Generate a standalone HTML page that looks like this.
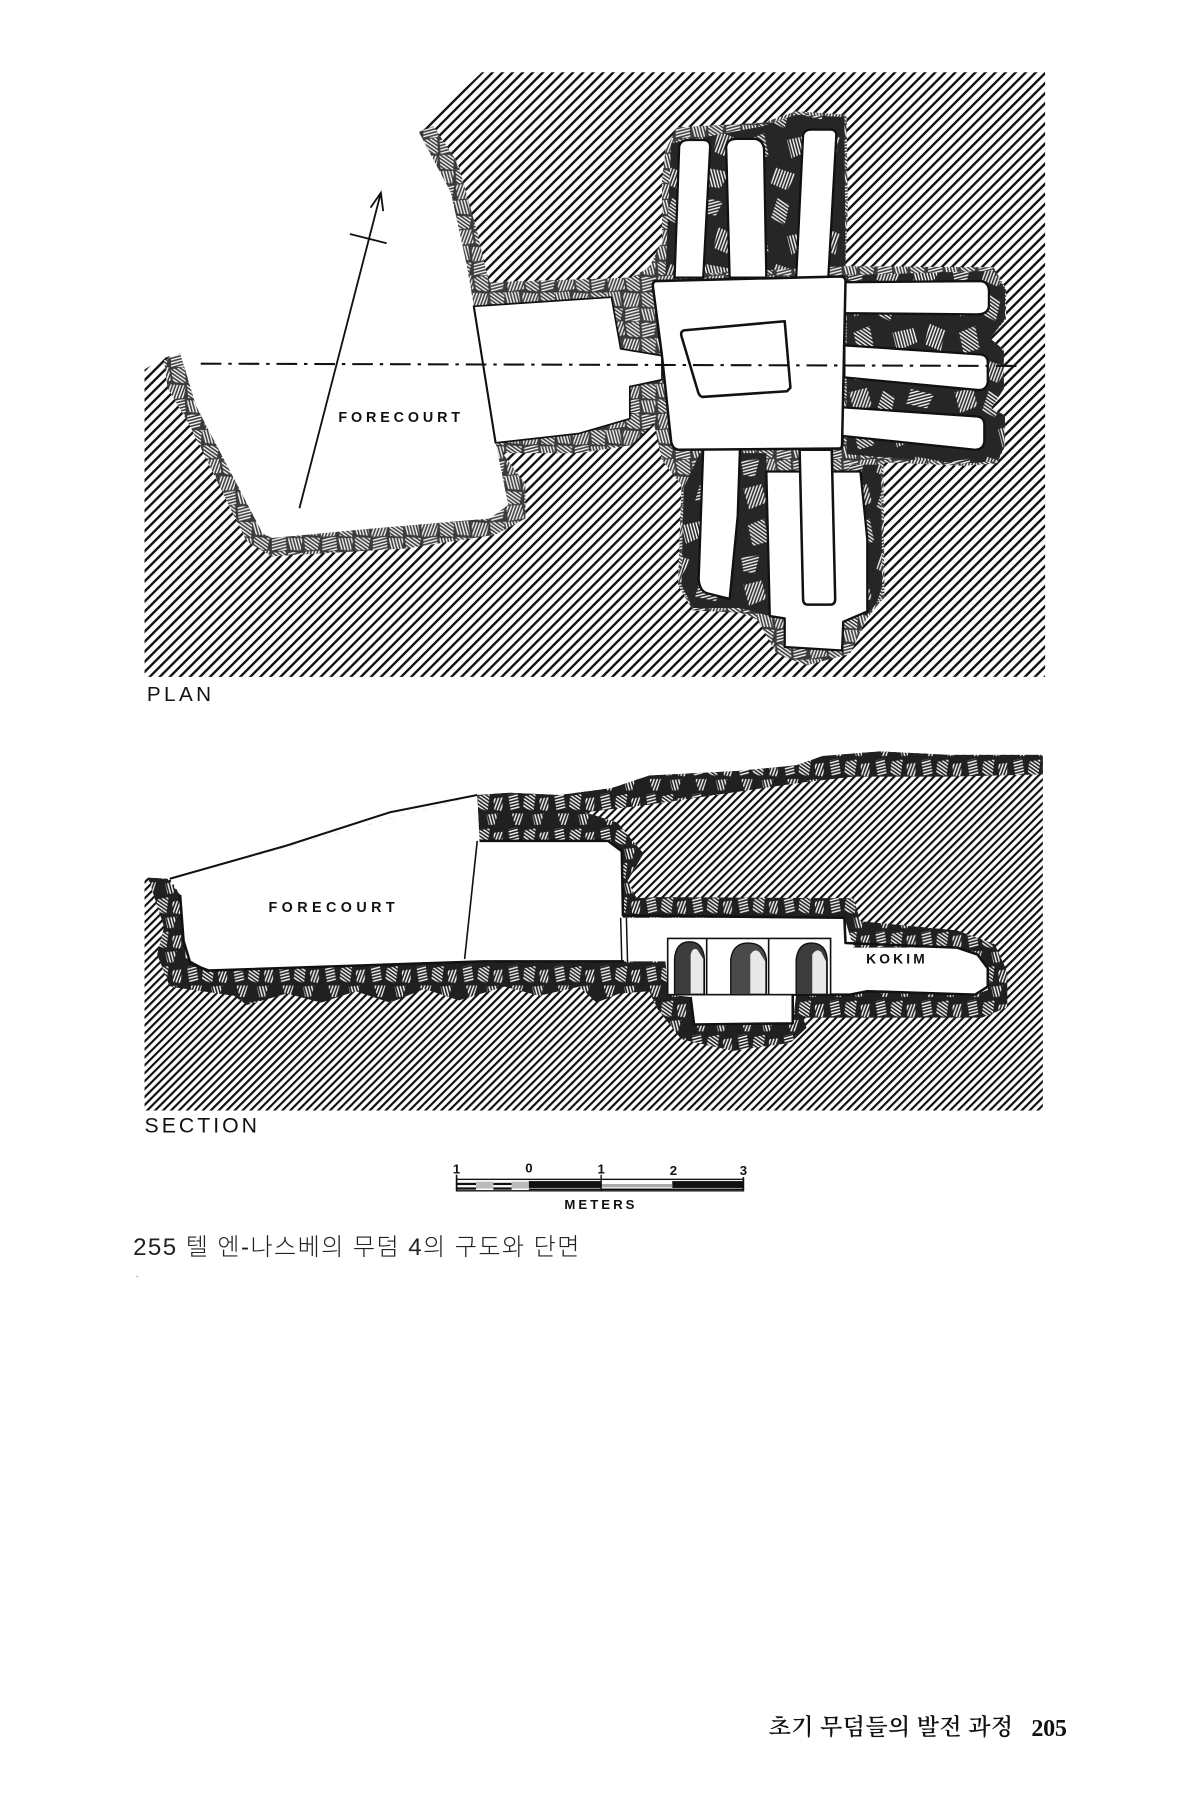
<!DOCTYPE html>
<html lang="ko">
<head>
<meta charset="utf-8">
<title>텔 엔-나스베의 무덤 4</title>
<style>
html,body{margin:0;padding:0;background:#fff;width:1200px;height:1800px;overflow:hidden}
svg{display:block}
.lab{font-family:"Liberation Sans",sans-serif;font-weight:700;fill:#111}
.big{font-family:"Liberation Sans",sans-serif;fill:#111}
</style>
</head>
<body>
<svg xmlns="http://www.w3.org/2000/svg" width="1200" height="1800" viewBox="0 0 1046 1569">
<defs>
<pattern id="hp" patternUnits="userSpaceOnUse" width="6.2" height="6.2" patternTransform="rotate(45)">
<rect width="6.2" height="6.2" fill="#fff"/><rect width="2.1" height="6.2" fill="#111"/>
</pattern>
<pattern id="hs" patternUnits="userSpaceOnUse" width="4.9" height="4.9" patternTransform="rotate(45)">
<rect width="4.9" height="4.9" fill="#fff"/><rect width="1.9" height="4.9" fill="#111"/>
</pattern>
<pattern id="w1" patternUnits="userSpaceOnUse" width="2.6" height="2.6" patternTransform="rotate(20)"><rect width="1.2" height="2.6" fill="#fff"/></pattern>
<pattern id="w2" patternUnits="userSpaceOnUse" width="2.6" height="2.6" patternTransform="rotate(75)"><rect width="1.2" height="2.6" fill="#fff"/></pattern>
<pattern id="w3" patternUnits="userSpaceOnUse" width="2.6" height="2.6" patternTransform="rotate(125)"><rect width="1.2" height="2.6" fill="#fff"/></pattern>
<pattern id="w4" patternUnits="userSpaceOnUse" width="2.6" height="2.6" patternTransform="rotate(165)"><rect width="1.2" height="2.6" fill="#fff"/></pattern>
<pattern id="rub" patternUnits="userSpaceOnUse" width="92" height="84">
<rect width="92" height="84" fill="#262626"/>
<polygon points="4,6 20,2 24,18 9,24" fill="url(#w1)"/>
<polygon points="34,4 44,10 40,28 28,22" fill="url(#w3)"/>
<polygon points="58,3 78,8 72,20 54,16" fill="url(#w2)"/>
<polygon points="8,38 22,32 26,52 12,56" fill="url(#w3)"/>
<polygon points="42,38 60,34 64,46 46,54" fill="url(#w4)"/>
<polygon points="74,30 88,36 84,54 70,48" fill="url(#w1)"/>
<polygon points="2,66 18,64 14,80 4,78" fill="url(#w2)"/>
<polygon points="32,62 50,68 42,82 28,76" fill="url(#w1)"/>
<polygon points="62,62 84,66 76,80 60,78" fill="url(#w4)"/>
</pattern>
<pattern id="rubL" patternUnits="userSpaceOnUse" width="44" height="40">
<rect width="44" height="40" fill="#3a3a3a"/>
<polygon points="1,1 15,0 17,12 3,14" fill="url(#w1)"/>
<polygon points="17,2 29,0 30,14 19,13" fill="url(#w3)"/>
<polygon points="31,1 44,2 42,13 32,14" fill="url(#w2)"/>
<polygon points="0,15 12,14 14,27 2,26" fill="url(#w4)"/>
<polygon points="15,15 30,16 28,27 16,28" fill="url(#w1)"/>
<polygon points="31,15 44,15 43,28 32,27" fill="url(#w3)"/>
<polygon points="1,28 15,29 13,39 2,40" fill="url(#w3)"/>
<polygon points="17,29 29,28 30,40 17,40" fill="url(#w2)"/>
<polygon points="31,29 44,29 42,40 32,39" fill="url(#w4)"/>
</pattern>
<pattern id="rubS" patternUnits="userSpaceOnUse" width="40" height="30">
<rect width="40" height="30" fill="#202020"/>
<polygon points="3,3 11,1 13,15 5,16" fill="url(#w2)"/>
<polygon points="17,4 27,2 25,17 16,14" fill="url(#w3)"/>
<polygon points="30,6 38,5 38,17 31,16" fill="url(#w1)"/>
<polygon points="6,19 16,19 13,29 9,29" fill="url(#w1)"/>
<polygon points="24,20 34,19 31,29 26,29" fill="url(#w4)"/>
</pattern>
</defs>

<!-- PLAN -->
<polygon fill="url(#hp)" points="420,63 911,63 911,590 126,590 126,322 143,312 157,308 171,354 300,460 413,267 365,115"/>
<polygon fill="url(#rubL)" points="365,115 378,110 399,142 416,202 424,237 427,246 550,242 566,233 577,210 577,157 580,131 590,111 665,107 694,97 738,100 739,181 737,232 866,233 877,252 877,278 863,295 875,305 875,339 864,356 876,362 876,389 869,404 840,406 770,403 771,520 755,540 741,570 703,580 677,570 660,540 645,534 604,532 591,510 594,423 577,401 570,369 550,388 505,395 438,395 458,422 458,452 432,466 355,478 237,485 215,472 165,370 146,338 143,314 157,308 171,354 229,465 432,420 413,267 407,232 393,168"/>
<polygon fill="#fff" points="160,316 171,354 229,465 237,469 321,461 427,452 443,440 432,386 413,267 407,232 393,168 365,115 330,110 300,250 200,310"/>
<polygon fill="url(#rub)" points="738,240 866,236 876,252 876,278 863,295 875,305 875,339 864,356 876,362 876,389 869,402 840,404 738,396"/>
<polygon fill="url(#rub)" points="610,395 668,395 671,537 645,530 604,530 594,510 596,425"/>
<polygon fill="url(#rub)" points="740,405 768,405 769,520 755,537 745,530"/>
<polygon fill="url(#rub)" points="585,125 665,110 694,100 736,102 737,232 580,240"/>
<polygon fill="#fff" stroke="#111" stroke-width="1.5" points="413,267 533,259 541,304 577,310 577,331 549,337 549,365 504,378 432,386"/>
<line x1="413" y1="267" x2="432" y2="386" stroke="#111" stroke-width="1.8"/>
<g fill="#fff" stroke="#111" stroke-width="2" stroke-linejoin="round">
<path d="M588,242 L592,128 Q593,122 600,122 L613,122 Q619,122 619,128 L613,242 Z"/>
<path d="M636,242 L633,128 Q634,121 642,121 L658,121 Q665,122 666,130 L668,242 Z"/>
<path d="M694,242 L700,118 Q701,113 707,113 L724,113 Q729,113 729,118 L722,242 Z"/>
<path d="M736,246 L855,245 Q862,246 862,254 L862,267 Q861,274 852,274 L736,273 Z"/>
<path d="M736,301 L855,309 Q861,310 861,316 L861,333 Q860,340 853,340 L736,329 Z"/>
<path d="M734,355 L852,363 Q858,364 858,370 L858,385 Q857,392 850,392 L734,380 Z"/>
<path d="M613,390 L645,390 L643,450 L636,522 L616,517 Q610,515 609,505 Z"/>
<path d="M668,411 L750,411 L756,470 L756,533 L735,542 L734,567 L684,564 L684,539 L671,537 Z"/>
<path d="M572,245 Q569,245 569,249 L577,310 L585,385 Q586,391 591,392 L731,391 Q734,391 734,388 L737,245 Q737,241 733,241 Z" stroke-width="2.2"/>
<path d="M697,392 L725,392 L728,522 Q728,527 724,527 L704,527 Q700,527 700,522 Z" stroke-width="2.2"/>
<path d="M596,288 L684,280 L689,338 L686,341 L612,346 Q609,345 608,340 L594,293 Q593,289 596,288 Z" stroke-width="2.2"/>
</g>
<line x1="175" y1="317" x2="888" y2="319" stroke="#111" stroke-width="1.8" stroke-dasharray="18 6 3 6"/>
<g stroke="#111" stroke-width="1.6" fill="none">
<line x1="261" y1="443" x2="332" y2="168"/>
<polyline points="323,181 332,168 334,184"/>
<line x1="305" y1="204" x2="337" y2="212"/>
</g>
<text class="lab" x="295" y="368" font-size="12.5" textLength="106">FORECOURT</text>
<text class="big" x="128" y="611" font-size="18" textLength="56">PLAN</text>

<!-- SECTION -->
<polygon fill="url(#hs)" points="126,765 148,766 416,693 444,691 488,693 533,687 566,676 644,672 694,667 717,659 767,655 828,658 909,658 909,968 126,968"/>
<polygon fill="url(#rubS)" points="129,765 146,766 157,780 162,835 182,846 421,838 544,838 543,800 530,760 530,738 418,733 416,693 444,691 488,693 533,687 566,676 644,672 694,667 717,659 767,655 828,658 909,658 909,675 828,677 744,677 700,682 644,690 561,702 510,708 538,717 561,744 547,768 555,783 572,782 744,783 750,803 834,811 867,823 878,847 878,878 856,887 700,887 703,896 689,909 639,916 594,906 572,878 566,864 540,866 520,874 505,860 470,868 440,860 400,872 370,862 340,874 310,864 280,874 250,866 215,876 204,868 148,860 137,832 143,808"/>
<polygon fill="#fff" points="148,766 416,693 418,733 530,733 542,742 543,800 736,800 744,826 834,826 852,832 861,844 861,863 850,867 756,864 741,867 694,867 691,892 605,893 602,869 583,867 580,838 544,838 421,838 182,846 162,835 157,780"/>
<g fill="none" stroke="#111" stroke-linejoin="round">
<polyline stroke-width="1.8" points="148,766 250,737 340,708 416,693"/>
<polyline stroke-width="2.2" points="418,733 530,733 542,742 543,798 736,800 737,822 834,826 852,832 861,844 861,860 850,867 756,864 741,867 691,867 691,892 605,893 602,869"/>
<polyline stroke-width="2.2" points="544,838 421,838 182,846 166,840 160,820 157,780"/>
<line x1="416" y1="733" x2="405" y2="836" stroke-width="1.4"/>
<line x1="546" y1="800" x2="547" y2="838" stroke-width="1.3"/>
<line x1="541" y1="800" x2="542" y2="838" stroke-width="1.3"/>
</g>
<g fill="#fff" stroke="#111" stroke-width="1.4">
<rect x="582" y="818" width="142" height="49"/>
<line x1="616" y1="818" x2="616" y2="867"/>
<line x1="670" y1="818" x2="670" y2="867"/>
</g>
<g stroke="#111" stroke-width="1.2">
<path d="M588,867 L588,836 Q589,821 601,821 Q613,821 614,836 L614,867 Z" fill="#3c3c3c"/>
<path d="M637,867 L637,836 Q639,822 652,822 Q666,822 668,836 L668,867 Z" fill="#4a4a4a"/>
<path d="M694,867 L694,836 Q696,822 707,822 Q720,822 721,836 L721,867 Z" fill="#3c3c3c"/>
</g>
<g fill="#e8e8e8">
<path d="M602,866 L602,832 Q604,825 608,828 L613,836 L613,866 Z"/>
<path d="M654,866 L654,832 Q658,826 662,830 L667,838 L667,866 Z"/>
<path d="M708,866 L708,832 Q712,826 716,830 L720,838 L720,866 Z"/>
</g>
<text class="lab" x="234" y="795" font-size="12.5" textLength="110">FORECOURT</text>
<text class="lab" x="755" y="840" font-size="12" textLength="51">KOKIM</text>
<text class="big" x="126" y="987" font-size="18.5" textLength="98">SECTION</text>

<!-- SCALE -->
<g>
<rect x="398" y="1028" width="250" height="10" fill="#fff" stroke="#111" stroke-width="1.2"/>
<rect x="398" y="1031" width="17" height="2" fill="#111"/><rect x="398" y="1035" width="17" height="2" fill="#111"/>
<rect x="430" y="1031" width="16" height="2" fill="#111"/><rect x="430" y="1035" width="16" height="2" fill="#111"/>
<rect x="415" y="1030" width="15" height="6" fill="#bbb"/><rect x="446" y="1030" width="15" height="6" fill="#bbb"/>
<rect x="461" y="1029.500" width="63" height="6" fill="#111"/>
<rect x="586" y="1029.500" width="62" height="6" fill="#111"/>
<rect x="524" y="1032" width="62" height="3" fill="#aaa"/>
<rect x="461" y="1036" width="187" height="1.300" fill="#111"/>
<line x1="398" y1="1024" x2="398" y2="1038" stroke="#111" stroke-width="1.4"/>
<line x1="524" y1="1024" x2="524" y2="1038" stroke="#111" stroke-width="1.2"/>
<line x1="648" y1="1026" x2="648" y2="1038" stroke="#111" stroke-width="1.4"/>
</g>
<g class="lab" font-size="11.5" text-anchor="middle">
<text x="398" y="1023">1</text>
<text x="461" y="1022">0</text>
<text x="524" y="1023">1</text>
<text x="587" y="1024">2</text>
<text x="648" y="1024">3</text>
</g>
<text class="lab" x="492" y="1054" font-size="11.5" textLength="61">METERS</text>

<!-- CAPTION -->
<text x="116" y="1094" font-size="21" fill="#222" textLength="389" style="font-family:'Liberation Sans','Noto Sans CJK KR',sans-serif;font-weight:300">255 텔 엔-나스베의 무덤 4의 구도와 단면</text>
<rect x="119" y="1112" width="1.2" height="1.2" fill="#999"/>

<!-- FOOTER -->
<text x="670" y="1512" font-size="20" fill="#111" textLength="213" style="font-family:'Liberation Serif','Noto Serif CJK KR','Noto Serif CJK SC',serif;font-weight:600">초기 무덤들의 발전 과정</text>
<text x="899" y="1513" font-size="21" fill="#111" textLength="31" style="font-family:'Liberation Serif',serif;font-weight:700">205</text>
</svg>
</body>
</html>
